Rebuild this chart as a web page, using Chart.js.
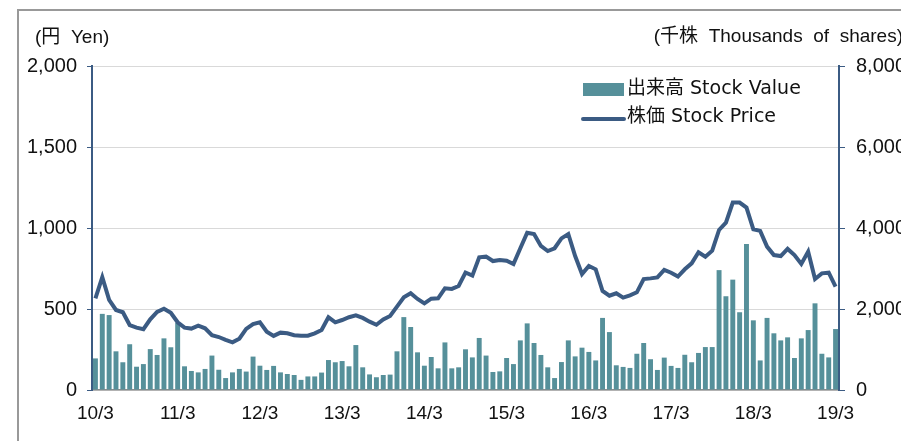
<!DOCTYPE html>
<html>
<head>
<meta charset="utf-8">
<script src="https://cdn.jsdelivr.net/npm/chart.js@4.4.1/dist/chart.umd.min.js"></script>
<style>
  html, body { margin: 0; padding: 0; background: #fff; overflow: hidden; width: 901px; height: 441px; }
  #wrap { position: absolute; left: 0; top: 0; width: 930px; height: 441px; }
</style>
</head>
<body>
<div id="wrap"><canvas id="myChart" width="930" height="441"></canvas></div>
<script>
// monthly share price (yen) and trading volume (thousand shares), 2010/3 - 2019/3
const tickLabels = ['10/3', '11/3', '12/3', '13/3', '14/3', '15/3', '16/3', '17/3', '18/3', '19/3'];

const stockVolume = [
  780, 1880, 1850, 955, 685, 1130, 575, 640, 1010, 865,
  1275, 1055, 1660, 585, 470, 435, 520, 850, 500, 295,
  435, 520, 455, 825, 600, 495, 595, 435, 395, 370,
  250, 335, 335, 430, 740, 685, 715, 585, 1110, 560,
  385, 315, 370, 380, 955, 1800, 1555, 930, 600, 815,
  535, 1175, 535, 560, 1005, 805, 1285, 850, 445, 460,
  790, 640, 1225, 1645, 1160, 865, 560, 295, 690, 1225,
  830, 1045, 940, 730, 1780, 1430, 610, 570, 545, 895,
  1160, 760, 495, 800, 595, 545, 870, 685, 915, 1060,
  1060, 2960, 2315, 2725, 1920, 3605, 1720, 730, 1780, 1400,
  1225, 1300, 790, 1275, 1480, 2140, 895, 805, 1505
];

const stockPrice = [
  566, 696, 556, 494, 480, 401, 385, 375, 436, 482,
  502, 477, 418, 385, 379, 397, 381, 338, 327, 309,
  294, 317, 377, 407, 418, 360, 334, 354, 350, 338,
  335, 335, 350, 370, 449, 418, 432, 449, 461, 445,
  422, 403, 436, 457, 515, 572, 597, 562, 535, 564,
  566, 628, 624, 642, 725, 706, 819, 823, 796, 803,
  798, 778, 875, 971, 963, 889, 858, 875, 936, 963,
  827, 716, 766, 745, 611, 582, 597, 570, 584, 603,
  685, 689, 695, 741, 724, 700, 745, 782, 850, 823,
  860, 988, 1033, 1157, 1157, 1126, 992, 982, 885, 833,
  827, 871, 833, 778, 854, 685, 720, 724, 638
];

// month labels like "10/3", "10/4", ... "19/3"
const months = [];
for (let y = 10, m = 3; months.length < stockPrice.length; ) {
  months.push(y + '/' + m);
  m++;
  if (m > 12) { m = 1; y++; }
}

const barColor = '#56909a';
const lineColor = '#3b5b83';
const axisBlue = '#3b5b83';
const tickFont = { family: '"Liberation Sans", Arial, sans-serif', size: 20 };

// outer frame, unit captions and the legend box
const decorations = {
  id: 'decorations',
  beforeDraw(chart) {
    const ctx = chart.ctx;
    ctx.save();
    ctx.strokeStyle = '#999';
    ctx.lineWidth = 2;
    ctx.beginPath();
    ctx.moveTo(18, 441);
    ctx.lineTo(18, 10);
    ctx.lineTo(930, 10);
    ctx.stroke();
    ctx.restore();
  },
  afterDraw(chart) {
    const ctx = chart.ctx;
    ctx.save();
    ctx.fillStyle = '#111';
    ctx.font = '19px "Liberation Sans", "Noto Sans CJK JP", sans-serif';
    ctx.textBaseline = 'middle';
    ctx.textAlign = 'left';
    ctx.fillText('(円  Yen)', 35, 38);
    ctx.textAlign = 'right';
    ctx.fillText('(千株  Thousands  of  shares)', 903, 37);

    const ds = chart.data.datasets;
    ctx.textAlign = 'left';
    ctx.font = '19px "DejaVu Sans", "Noto Sans CJK JP", sans-serif';
    ctx.fillStyle = ds[0].backgroundColor;
    ctx.fillRect(583, 83, 41, 13);
    ctx.fillStyle = '#111';
    ctx.fillText(ds[0].label, 627, 89);
    ctx.strokeStyle = ds[1].borderColor;
    ctx.lineWidth = 4;
    ctx.lineCap = 'round';
    ctx.beginPath();
    ctx.moveTo(583, 119);
    ctx.lineTo(624, 119);
    ctx.stroke();
    ctx.fillText(ds[1].label, 627, 117);
    ctx.restore();
  }
};

const ctx = document.getElementById('myChart');
new Chart(ctx, {
  data: {
    labels: months,
    datasets: [
      {
        type: 'bar',
        label: '出来高 Stock Value',
        data: stockVolume,
        backgroundColor: barColor,
        yAxisID: 'yVol',
        barPercentage: 0.72,
        categoryPercentage: 1.0,
        order: 2
      },
      {
        type: 'line',
        label: '株価 Stock Price',
        data: stockPrice,
        borderColor: lineColor,
        borderWidth: 4,
        pointRadius: 0,
        tension: 0,
        yAxisID: 'yPrice',
        order: 1
      }
    ]
  },
  options: {
    responsive: false,
    animation: false,
    layout: { padding: { top: 66, left: 0, right: 0, bottom: 0 } },
    plugins: { legend: { display: false }, tooltip: { enabled: false } },
    scales: {
      x: {
        offset: true,
        border: { color: '#8c8c8c', width: 1.5 },
        grid: { display: false, drawTicks: false },
        ticks: {
          autoSkip: false,
          maxRotation: 0,
          padding: 12,
          color: '#111',
          font: { family: '"Liberation Sans", Arial, sans-serif', size: 19 },
          callback: (v, i) => tickLabels.includes(months[i]) ? months[i] : ''
        },
        afterFit: (s) => { s.height = 51; }
      },
      yPrice: {
        position: 'left',
        min: 0,
        max: 2000,
        border: { color: axisBlue, width: 2 },
        grid: { color: '#d9d9d9', lineWidth: 1, tickColor: axisBlue, tickLength: 5 },
        ticks: {
          stepSize: 500,
          padding: 10,
          color: '#111',
          font: tickFont,
          callback: (v) => v.toLocaleString('en-US')
        },
        afterFit: (s) => { s.width = 92; }
      },
      yVol: {
        position: 'right',
        min: 0,
        max: 8000,
        border: { color: axisBlue, width: 2 },
        grid: { drawOnChartArea: false, tickColor: axisBlue, tickLength: 6 },
        ticks: {
          stepSize: 2000,
          padding: 11,
          color: '#111',
          font: tickFont,
          callback: (v) => v.toLocaleString('en-US')
        },
        afterFit: (s) => { s.width = 91; }
      }
    }
  },
  plugins: [decorations]
});
</script>
</body>
</html>
